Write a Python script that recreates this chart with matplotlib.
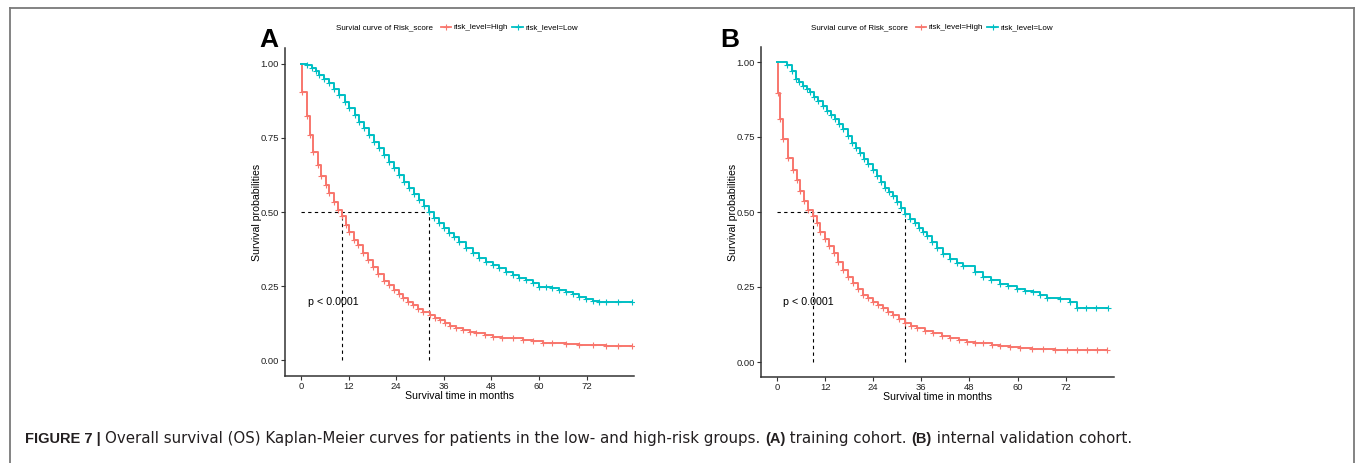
import matplotlib
matplotlib.use('Agg')
import matplotlib.pyplot as plt
from matplotlib.lines import Line2D
import numpy as np

plt.rcParams['font.family'] = ['Liberation Sans', 'DejaVu Sans']

# ---- data ---------------------------------------------------------------
# panel A (training cohort)
a_high_t = [0, 0.3, 1.4, 2.2, 3.0, 4.2, 5.0, 6.3, 7.1, 8.4, 9.3, 10.3, 11.3, 12.2,
            13.4, 14.3, 15.7, 16.8, 18.1, 19.3, 21.0, 22.2, 23.4, 24.6, 25.8, 27.0,
            28.3, 29.5, 30.8, 32.4, 33.7, 35.0, 36.4, 37.6, 39.0, 40.8, 42.5, 44.2,
            46.3, 48.3, 50.8, 53.4, 56.0, 58.4, 61.0, 63.4, 66.8, 70.2, 73.5, 76.9,
            80.0, 83.5]
a_high_s = [1.0, 0.906, 0.824, 0.760, 0.704, 0.659, 0.623, 0.591, 0.563, 0.535, 0.507,
            0.488, 0.456, 0.434, 0.405, 0.389, 0.360, 0.338, 0.315, 0.290, 0.268, 0.252,
            0.237, 0.222, 0.208, 0.196, 0.185, 0.174, 0.163, 0.152, 0.143, 0.134, 0.124,
            0.115, 0.108, 0.101, 0.095, 0.090, 0.084, 0.079, 0.076, 0.073, 0.068, 0.063,
            0.059, 0.056, 0.053, 0.051, 0.050, 0.048, 0.048, 0.048]
a_low_t = [0, 1.5, 2.9, 3.8, 4.6, 5.8, 7.1, 8.4, 9.7, 11.0, 12.2, 13.5, 14.7, 16.0,
           17.2, 18.5, 19.7, 21.0, 22.3, 23.5, 24.8, 26.0, 27.3, 28.5, 29.8, 31.1,
           32.3, 33.6, 34.9, 36.1, 37.4, 38.6, 39.9, 41.6, 43.3, 45.0, 46.6, 48.3,
           50.0, 51.7, 53.4, 55.0, 56.7, 58.4, 60.1, 61.8, 63.4, 65.1, 66.8, 68.5,
           70.2, 71.8, 73.5, 75.2, 76.9, 80.0, 83.5]
a_low_s = [1.0, 0.995, 0.985, 0.975, 0.963, 0.950, 0.935, 0.915, 0.895, 0.873, 0.850,
           0.828, 0.805, 0.783, 0.760, 0.738, 0.715, 0.693, 0.670, 0.648, 0.625, 0.603,
           0.580, 0.560, 0.541, 0.521, 0.499, 0.481, 0.462, 0.445, 0.428, 0.414, 0.400,
           0.380, 0.360, 0.345, 0.332, 0.321, 0.310, 0.298, 0.287, 0.278, 0.270, 0.259,
           0.248, 0.245, 0.242, 0.237, 0.231, 0.222, 0.214, 0.206, 0.199, 0.197, 0.197,
           0.197, 0.197]

# panel B (internal validation cohort)
b_high_t = [0, 0.3, 0.8, 1.6, 2.8, 3.9, 4.9, 5.7, 6.8, 7.8, 8.9, 9.9, 10.7, 12.0,
            13.0, 14.2, 15.3, 16.5, 17.8, 19.0, 20.3, 21.5, 22.8, 24.0, 25.3, 26.5,
            27.8, 29.0, 30.5, 31.9, 33.4, 34.9, 37.0, 39.0, 41.1, 43.2, 45.3, 47.3,
            49.4, 51.5, 53.6, 55.6, 58.1, 60.6, 63.5, 66.4, 69.4, 72.3, 74.8, 77.3,
            79.8, 82.3]
b_high_s = [1.0, 0.898, 0.809, 0.742, 0.681, 0.641, 0.606, 0.569, 0.538, 0.508, 0.486,
            0.465, 0.435, 0.410, 0.388, 0.363, 0.335, 0.307, 0.285, 0.263, 0.243, 0.224,
            0.212, 0.201, 0.190, 0.179, 0.168, 0.157, 0.144, 0.131, 0.121, 0.112, 0.104,
            0.096, 0.088, 0.079, 0.073, 0.068, 0.065, 0.062, 0.057, 0.053, 0.050, 0.048,
            0.045, 0.043, 0.041, 0.039, 0.039, 0.039, 0.039, 0.039]
b_low_t = [0, 2.4, 3.7, 4.7, 5.6, 6.6, 7.4, 8.2, 9.3, 10.3, 11.4, 12.4, 13.5, 14.5,
           15.5, 16.5, 17.6, 18.6, 19.7, 20.7, 21.8, 22.8, 23.9, 24.9, 26.0, 27.0,
           28.0, 29.0, 30.0, 31.0, 31.9, 33.2, 34.3, 35.3, 36.4, 37.4, 38.6, 39.9,
           41.5, 43.2, 44.8, 46.5, 49.5, 51.5, 53.5, 55.6, 57.7, 59.8, 61.8, 63.9,
           65.6, 67.3, 70.6, 73.1, 74.8, 77.0, 79.5, 82.5]
b_low_s = [1.0, 0.99, 0.971, 0.943, 0.932, 0.921, 0.910, 0.899, 0.885, 0.871, 0.854,
           0.837, 0.823, 0.809, 0.792, 0.776, 0.753, 0.731, 0.714, 0.698, 0.678, 0.659,
           0.639, 0.620, 0.600, 0.581, 0.567, 0.553, 0.534, 0.512, 0.495, 0.476, 0.462,
           0.448, 0.434, 0.420, 0.400, 0.381, 0.360, 0.342, 0.331, 0.320, 0.300, 0.284,
           0.272, 0.261, 0.252, 0.244, 0.238, 0.233, 0.223, 0.213, 0.210, 0.199, 0.179,
           0.179, 0.179, 0.179]

x_ticks = [0, 12, 24, 36, 48, 60, 72]
y_ticks = [0.00, 0.25, 0.50, 0.75, 1.00]
group_labels = ['risk_level=High', 'risk_level=Low']
legend_title = 'Survial curve of Risk_score'
p_text = 'p < 0.0001'

RED = '#F8766D'
TEAL = '#00BFC4'
AXCOL = '#333333'


def median_time(t, s):
    for ti, si in zip(t, s):
        if si <= 0.5:
            return ti
    return None


def km_panel(fig, rect, curves, letter, letter_xy, legend_x, p_xy, ylim):
    ax = fig.add_axes(rect)
    for (t, s), col in zip(curves, [RED, TEAL]):
        ax.step(t, s, where='post', color=col, lw=1.4, zorder=3)
        ax.plot(t[1:], s[1:], ls='none', marker='+', ms=4.5, mew=0.8,
                color=col, zorder=3)
    meds = [median_time(t, s) for t, s in curves]
    ax.plot([0, max(meds)], [0.5, 0.5], ls=(0, (3, 3)), color='black', lw=0.8)
    for m in meds:
        ax.plot([m, m], [0, 0.5], ls=(0, (3, 3)), color='black', lw=0.8)
    ax.text(p_xy[0], p_xy[1], p_text, fontsize=7.7, va='center', ha='left')

    ax.set_xlim(-4, 84)
    ax.set_ylim(*ylim)
    ax.set_xticks(x_ticks)
    ax.set_yticks(y_ticks)
    ax.set_yticklabels(['%.2f' % v for v in y_ticks])
    for side in ['top', 'right']:
        ax.spines[side].set_visible(False)
    for side in ['left', 'bottom']:
        ax.spines[side].set_color(AXCOL)
        ax.spines[side].set_linewidth(1.1)
    ax.tick_params(length=3, width=0.8, color=AXCOL, labelsize=6.8,
                   labelcolor='#222222', pad=1.5)
    ax.set_xlabel('Survival time in months', fontsize=7.6, labelpad=0)
    ax.set_ylabel('Survival probabilities', fontsize=7.6, labelpad=-1)

    # legend on top
    fig.text(legend_x - 0.006, 0.9406, legend_title, fontsize=5.8,
             ha='right', va='center')
    handles = [Line2D([], [], color=c, lw=1.3, marker='+', ms=4.5, mew=0.8)
               for c in [RED, TEAL]]
    fig.legend(handles, group_labels, ncol=2, loc='center left',
               bbox_to_anchor=(legend_x, 0.9406), bbox_transform=fig.transFigure,
               frameon=False, fontsize=5.8, handlelength=1.3, handletextpad=0.3,
               columnspacing=0.5, borderpad=0, borderaxespad=0)
    fig.text(letter_xy[0], letter_xy[1], letter, fontsize=19, fontweight='bold',
             ha='left', va='baseline')
    return ax


fig = plt.figure(figsize=(13.55, 4.63), dpi=100)
W, H = 1355.0, 463.0

km_panel(fig, [285.1 / W, 1 - 376 / H, 349.1 / W, 328 / H],
         [(a_high_t, a_high_s), (a_low_t, a_low_s)], 'A',
         (259 / W, 1 - 47 / H), 441 / W, (1.8, 0.196), (-0.054, 1.054))
km_panel(fig, [761 / W, 1 - 377 / H, 352.7 / W, 330 / H],
         [(b_high_t, b_high_s), (b_low_t, b_low_s)], 'B',
         (720 / W, 1 - 47 / H), 916 / W, (1.4, 0.20), (-0.05, 1.05))

# outer frame (open at the bottom)
fc = '#7a7a7a'
fig.add_artist(Line2D([10 / W, 10 / W], [0, 1 - 8 / H], color=fc, lw=1.3))
fig.add_artist(Line2D([1353.5 / W, 1353.5 / W], [0, 1 - 8 / H], color=fc, lw=1.3))
fig.add_artist(Line2D([10 / W, 1353.5 / W], [1 - 8 / H, 1 - 8 / H], color=fc, lw=1.3))

# caption with mixed bold pieces
caption = [('FIGURE 7 | ', 'bold', 'Liberation Sans', 10.5),
           ('Overall survival (OS) Kaplan-Meier curves for patients in the low- and '
            'high-risk groups. ', 'normal', 'DejaVu Sans', 10.8),
           ('(A)', 'bold', 'Liberation Sans', 10.5),
           (' training cohort. ', 'normal', 'DejaVu Sans', 10.8),
           ('(B)', 'bold', 'Liberation Sans', 10.5),
           (' internal validation cohort.', 'normal', 'DejaVu Sans', 10.8)]
renderer = fig.canvas.get_renderer()
x = 25.0
for txt, wt, fam, fs in caption:
    t = fig.text(x / W, 1 - 443 / H, txt, fontsize=fs, fontweight=wt,
                 family=fam, color='#231f20', ha='left', va='baseline')
    bb = t.get_window_extent(renderer=renderer)
    x = bb.x1

fig.savefig('out.png', dpi=100)
